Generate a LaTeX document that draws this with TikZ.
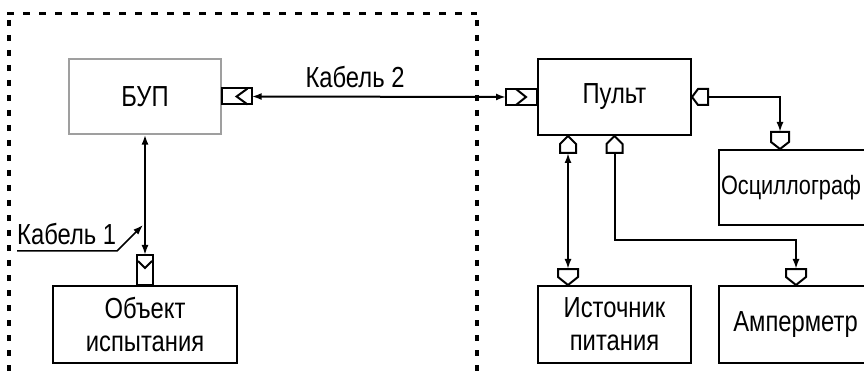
\documentclass[tikz,border=0pt]{standalone}
\usepackage{fontspec}
\setmainfont{Liberation Sans}[FakeStretch=0.82]
\usetikzlibrary{arrows.meta}
\begin{document}
\begin{tikzpicture}[x=1pt,y=-1pt,
  box/.style={draw, line width=2pt, minimum width=153pt, minimum height=76pt, inner sep=0pt, font=\fontsize{29}{33}\selectfont, align=center},
  lbl/.style={inner sep=0pt, font=\fontsize{29}{33}\selectfont},
  wire/.style={line width=2pt},
  conn/.style={draw, line width=2pt, fill=white, line join=miter},
  frameh/.style={line width=3pt, dash pattern=on 7pt off 9pt},
  framev/.style={line width=4pt, dash pattern=on 6pt off 9pt}]
\useasboundingbox (0,0) rectangle (864,371);
% frame
\draw[frameh] (7,14) -- (477,14);
\draw[framev] (9,20) -- (9,371);
\draw[framev] (477,20) -- (477,371);
% boxes
\node[box, draw=gray!75, line width=1.2pt, minimum width=152pt, minimum height=75pt] (bup) at (145,96.5) {БУП};
\node[box] (pult) at (614.5,97) {Пульт};
\node[box, minimum height=75pt, text width=149pt, align=left, font=\fontsize{26.5}{33}\selectfont] (osc) at (795.5,187.5) {Осциллограф};
\node[box, minimum height=77pt] (src) at (614.5,324.5) {Источник\\питания};
\node[box, minimum height=77pt] (amp) at (795.5,324.5) {Амперметр};
\node[box, minimum width=184pt, minimum height=77pt] (obj) at (145,324.5) {Объект\\испытания};
% connector points
\coordinate (bupS) at ([shift={(30,0)}]bup.east);
\coordinate (pultW) at ([shift={(-31,0)}]pult.west);
\coordinate (pultE) at ([shift={(16,0)}]pult.east);
\coordinate (oscIn) at ([shift={(62,0)}]osc.north west);
\coordinate (oscC) at ([shift={(0,-17)}]oscIn);
\coordinate (p1) at ([shift={(31,0)}]pult.south west);
\coordinate (p1b) at ([shift={(0,17)}]p1);
\coordinate (p2) at (pult.south);
\coordinate (p2b) at ([shift={(0,17)}]p2);
\coordinate (srcIn) at ([shift={(31,0)}]src.north west);
\coordinate (srcC) at ([shift={(0,-16)}]srcIn);
\coordinate (ampIn) at ([shift={(78,0)}]amp.north west);
\coordinate (ampC) at ([shift={(0,-16)}]ampIn);
\coordinate (objC) at ([shift={(0,-30)}]obj.north);
\coordinate (k1a) at (17,251);
\coordinate (k1b) at (117,251);
\coordinate (k1tip) at (143,225);
% wires
\draw[wire, {Latex[length=10pt,width=7pt]}-{Latex[length=10pt,width=7pt]}] (bupS) -- (pultW);
\draw[wire, {Latex[length=10pt,width=7pt]}-{Latex[length=10pt,width=7pt]}] (bup.south) -- (objC);
\draw[wire, -{Latex[length=10pt,width=7pt]}] (pultE) -| (oscC);
\draw[wire, {Latex[length=10pt,width=7pt]}-{Latex[length=10pt,width=7pt]}] (p1b) -- (srcC);
\draw[wire, -{Latex[length=10pt,width=7pt]}] (p2b) |- ([shift={(0,-29)}]ampC) -- (ampC);
\draw[line width=1.5pt, -{Latex[length=10pt,width=7pt]}] (k1a) -- (k1b) -- (k1tip);
% connector symbols
\draw[conn] (bup.east) ++(0,-8) rectangle ++(30,16);
\draw[wire] (bup.east) ++(26,-8) -- ++(-11,8) -- ++(11,8);
\draw[conn] (pult.west) ++(-31,-8) rectangle ++(31,16);
\draw[wire] (pult.west) ++(-21,-8) -- ++(10,8) -- ++(-10,8);
\draw[conn] (pult.east) -- ++(6,-8) -- ++(10,0) -- ++(0,16) -- ++(-10,0) -- cycle;
\draw[conn] (oscIn) -- ++(-9,-7) -- ++(0,-10) -- ++(18,0) -- ++(0,10) -- cycle;
\draw[conn] (p1) -- ++(8,8) -- ++(0,9) -- ++(-16,0) -- ++(0,-9) -- cycle;
\draw[conn] (p2) -- ++(8,8) -- ++(0,9) -- ++(-16,0) -- ++(0,-9) -- cycle;
\draw[conn] (srcIn) -- ++(-10,-8) -- ++(0,-8) -- ++(20,0) -- ++(0,8) -- cycle;
\draw[conn] (ampIn) -- ++(-10,-8) -- ++(0,-8) -- ++(20,0) -- ++(0,8) -- cycle;
\draw[conn] (obj.north) ++(-8,0) rectangle ++(16,-30);
\draw[wire] (obj.north) ++(-7,-24) -- ++(7,7) -- ++(7,-7);
% labels
\node[lbl] (k2) at (355,77) {Кабель 2};
\node[lbl, anchor=west] (k1) at (17,234) {Кабель 1};
\end{tikzpicture}
\end{document}
